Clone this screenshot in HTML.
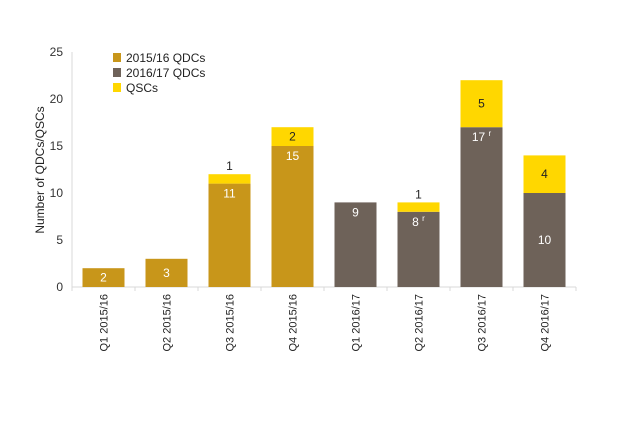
<!DOCTYPE html>
<html><head><meta charset="utf-8"><style>
body{margin:0;background:#fff;font-family:"Liberation Sans",Arial,sans-serif;}
svg text{font-family:"Liberation Sans",Arial,sans-serif;}
</style></head><body>
<svg id="chart" width="630" height="420" viewBox="0 0 630 420" xmlns="http://www.w3.org/2000/svg"></svg>
<script>
const categories=["Q1 2015/16","Q2 2015/16","Q3 2015/16","Q4 2015/16","Q1 2016/17","Q2 2016/17","Q3 2016/17","Q4 2016/17"];
const qdc1516=[2,3,11,15,0,0,0,0];
const qdc1617=[0,0,0,0,9,8,17,10];
const qsc=[0,0,1,2,0,1,5,4];
const revised=[false,false,false,false,false,true,true,false];
const yTicks=[0,5,10,15,20,25];
const seriesNames=["2015/16 QDCs","2016/17 QDCs","QSCs"];
const colors=["#C8961A","#6E6259","#FFD700"];

const NS="http://www.w3.org/2000/svg";
const svg=document.getElementById("chart");
const x0=72,x1=576,y0=287,yTop=52,yMax=25;
const band=(x1-x0)/categories.length,bw=42;
const y=v=>y0-(v/yMax)*(y0-yTop);
const xc=i=>x0+band*i+band/2;
function el(t,a,p){const e=document.createElementNS(NS,t);for(const k in a)e.setAttribute(k,a[k]);(p||svg).appendChild(e);return e;}

// axes
const ax=el("line",{x1:x0,y1:yTop,x2:x0,y2:y0,stroke:"#d9d9d9"});


const bx=el("line",{x1:x0,y1:y0,x2:x1,y2:y0,stroke:"#d9d9d9"});


yTicks.forEach(t=>{
  const tx=el("text",{x:x0-9,y:y(t)+4,"text-anchor":"end","font-size":12,fill:"#333"});
  tx.textContent=t;
  
  
});
for(let i=0;i<=categories.length;i++){
  const tk=el("line",{x1:x0+band*i,y1:y0,x2:x0+band*i,y2:y0+4,stroke:"#d9d9d9"});
  
  
}
const yt=el("text",{transform:"translate(44,170) rotate(-90)","text-anchor":"middle","font-size":12,fill:"#222"});
yt.textContent="Number of QDCs/QSCs";



categories.forEach((c,i)=>{
  const cx=xc(i);
  const lbl=el("text",{transform:`translate(${cx+4},294) rotate(-90)`,"text-anchor":"end","font-size":11,fill:"#222"});
  lbl.textContent=c;
  
  
  const base=qdc1516[i]+qdc1617[i];
  const baseColor=qdc1516[i]>0?colors[0]:colors[1];
  const r=el("rect",{x:cx-bw/2,y:y(base),width:bw,height:y0-y(base),fill:baseColor});
  
  
  const h=y0-y(base);
  const ly=(h<35||i===7)?(y(base)+h/2+4):(y(base)+14);
  const t=el("text",{x:cx,y:ly,"text-anchor":"middle","font-size":12,fill:"#fff"});
  t.textContent=base+(revised[i]?" ":"");
  
  
  if(revised[i]){const s=el("tspan",{"font-size":8,dy:-5},t);s.textContent="r";}
  if(qsc[i]>0){
    const top=base+qsc[i];
    const q=el("rect",{x:cx-bw/2,y:y(top),width:bw,height:y(base)-y(top),fill:colors[2]});
    
    
    const qh=y(base)-y(top);
    const qy=qh<15?y(top)-4:y(top)+qh/2+4;
    const qt=el("text",{x:cx,y:qy,"text-anchor":"middle","font-size":12,fill:"#222"});
    qt.textContent=qsc[i];
    
    
  }
});

seriesNames.forEach((n,k)=>{
  const g=el("g",{});
  
  
  el("rect",{x:113,y:53+k*15,width:8,height:9,fill:colors[k]},g);
  const t=el("text",{x:126,y:62+k*15,"font-size":12,fill:"#222"},g);
  t.textContent=n;
});
</script>
</body></html>
